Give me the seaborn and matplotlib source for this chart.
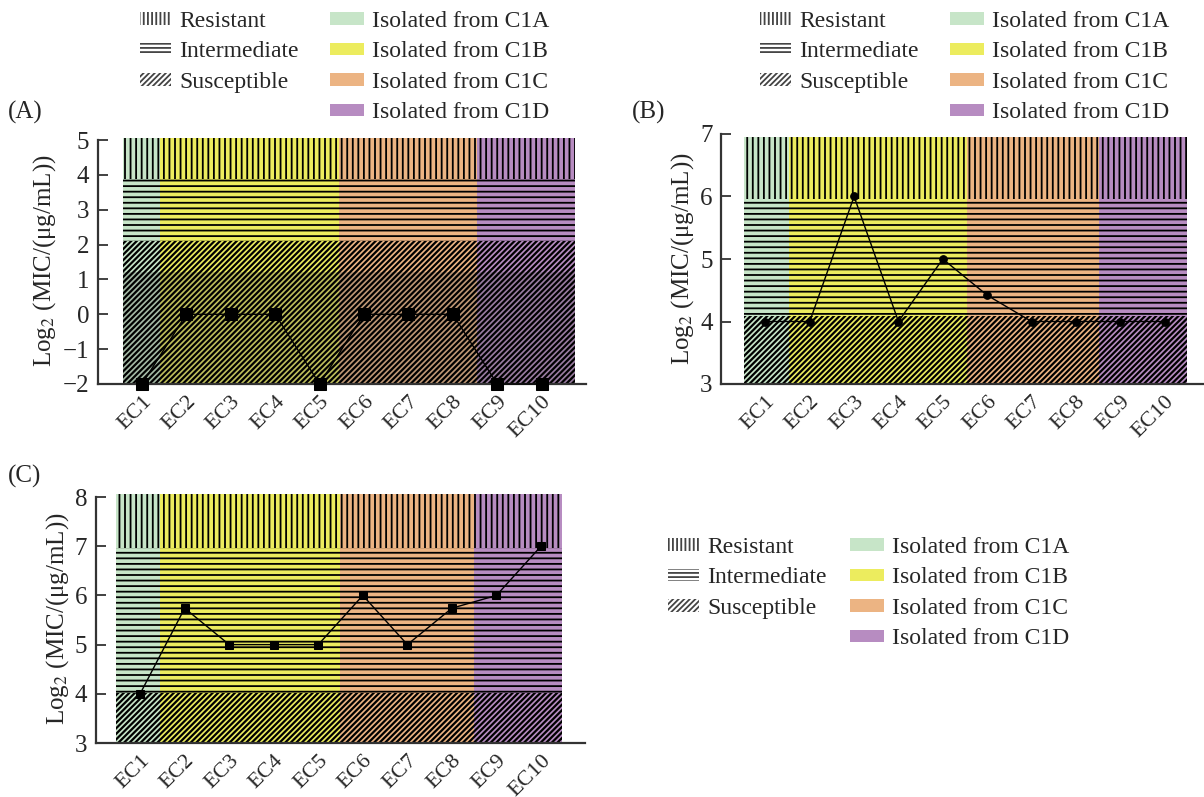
import matplotlib
matplotlib.use('Agg')
import matplotlib.pyplot as plt
import seaborn as sns
from matplotlib.patches import Patch

# strains and log2 MIC values
strains = ['EC1', 'EC2', 'EC3', 'EC4', 'EC5', 'EC6', 'EC7', 'EC8', 'EC9', 'EC10']
mic_a = [-2, 0, 0, 0, -2, 0, 0, 0, -2, -2]
mic_b = [4, 4, 6, 4, 5, 4.42, 4, 4, 4, 4]
mic_c = [4, 5.74, 5, 5, 5, 6, 5, 5.74, 6, 7]

sources = ['Isolated from C1A', 'Isolated from C1B', 'Isolated from C1C', 'Isolated from C1D']
source_colors = ['#c7e5c8', '#ecec5e', '#ecb483', '#b78cc1']
classes = ['Resistant', 'Intermediate', 'Susceptible']

# source-group boundaries along x (strain index) for each panel
edges_a = [0.57, 1.41, 5.44, 8.55, 10.75]
edges_b = [0.52, 1.54, 5.54, 8.51, 10.5]
edges_c = [0.46, 1.45, 5.48, 8.5, 10.48]
# bottom, S/I limit, I/R limit, top
levels_a = [-2, 2.09, 3.89, 5.07]
levels_b = [3, 4.09, 5.96, 6.95]
levels_c = [3, 4.01, 6.96, 8.07]

sns.set_style('ticks')
plt.rcParams['font.family'] = ['Liberation Serif', 'DejaVu Serif']
plt.rcParams['mathtext.fontset'] = 'stix'
plt.rcParams['hatch.linewidth'] = 1.3
plt.rcParams['hatch.color'] = 'black'

fig = plt.figure(figsize=(12.04, 7.97), dpi=100)
W, H = 1204, 797


def rect(x0, x1, ybot, ytop):
    return [x0 / W, 1 - ybot / H, (x1 - x0) / W, (ybot - ytop) / H]


def hatch_band(ax, x0, x1, y0, y1, h, lw):
    with plt.rc_context({'hatch.linewidth': lw}):
        pc = ax.fill_between([x0, x1], y0, y1, facecolor='none', edgecolor='black',
                             hatch=h, lw=0, zorder=2)
    if hasattr(pc, 'set_hatch_linewidth'):
        pc.set_hatch_linewidth(lw)


def panel(ax, vals, edges, levels, ylim, yticks, marker, msize, shade=None):
    xpos = list(range(1, len(strains) + 1))
    for i, c in enumerate(source_colors):
        ax.fill_between([edges[i], edges[i + 1]], levels[0], levels[3], color=c, lw=0, zorder=1)
    if shade is not None:
        ax.fill_between([edges[0], edges[-1]], levels[0], shade, color='#555555', alpha=0.3,
                        lw=0, zorder=1.5)
    hatch_band(ax, edges[0], edges[-1], levels[0], levels[1], '//////', 1.6)  # susceptible
    hatch_band(ax, edges[0], edges[-1], levels[1], levels[2], '---', 1.3)     # intermediate
    hatch_band(ax, edges[0], edges[-1], levels[2], levels[3], '|||', 1.3)     # resistant
    sns.lineplot(x=xpos, y=vals, ax=ax, color='black', lw=1.0, marker=marker, markersize=msize,
                 markeredgecolor='black', markerfacecolor='black', clip_on=False, zorder=5)
    ax.set_xlim(0, 11)
    ax.set_ylim(*ylim)
    ax.set_xticks(xpos)
    ax.set_xticklabels(strains, rotation=45, ha='right', rotation_mode='anchor', fontsize=16)
    ax.set_yticks(yticks)
    ax.tick_params(axis='y', direction='in', length=7, width=1.3, labelsize=18, pad=6, color='#333333')
    ax.tick_params(axis='x', direction='in', length=6, width=1.0, pad=6, color='#333333')
    for s in ['top', 'right']:
        ax.spines[s].set_visible(False)
    for s in ['left', 'bottom']:
        ax.spines[s].set_linewidth(1.6)
        ax.spines[s].set_color('#333333')
    ax.spines['left'].set_bounds(yticks[0], yticks[-1])
    ax.set_ylabel(r'Log$_2$ (MIC/(μg/mL))', fontsize=18, labelpad=3)
    ax.patch.set_alpha(0)


ax_a = fig.add_axes(rect(97.6, 586, 384, 137.6))
panel(ax_a, mic_a, edges_a, levels_a, (-2, 5.07), list(range(-2, 6)), 's', 8, shade=1.2)

ax_b = fig.add_axes(rect(721, 1209, 384, 134))
panel(ax_b, mic_b, edges_b, levels_b, (3, 7), list(range(3, 8)), 'o', 5.5)

ax_c = fig.add_axes(rect(95.6, 585.5, 743, 493.6))
panel(ax_c, mic_c, edges_c, levels_c, (3, 8.07), list(range(3, 9)), 's', 5.5)

for lab, x, y in [('(A)', 8, 112), ('(B)', 632, 112), ('(C)', 8, 476)]:
    fig.text(x / W, 1 - y / H, lab, fontsize=18, va='center', ha='left')


def legends(xh, xc, ytop):
    hh = [Patch(facecolor='white', edgecolor='#444444', hatch=h, lw=0) for h in ['||||', '----', '//////']]
    ch = [Patch(facecolor=c, edgecolor='none') for c in source_colors]
    common = dict(loc='upper left', frameon=False, fontsize=17, borderpad=0, borderaxespad=0,
                  handleheight=0.45, labelspacing=0.40, handletextpad=0.35)
    fig.legend(hh, classes, bbox_to_anchor=(xh / W, 1 - ytop / H), handlelength=1.3, **common)
    fig.legend(ch, sources, bbox_to_anchor=(xc / W, 1 - ytop / H), handlelength=1.45, **common)


legends(140, 330, 11)
legends(760, 950, 11)
legends(668, 850, 537)

fig.savefig('out.png', dpi=100)
